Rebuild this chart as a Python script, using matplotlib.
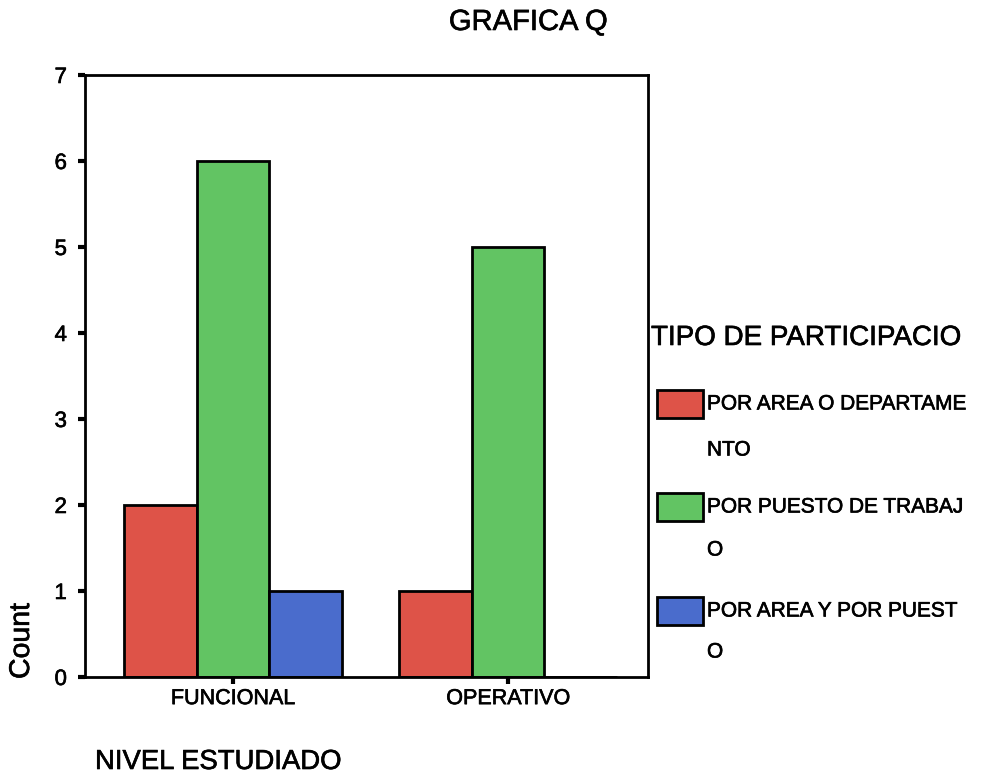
import matplotlib
matplotlib.use("Agg")
import matplotlib.pyplot as plt
import matplotlib.patheffects as pe
from matplotlib.patches import Rectangle
import numpy as np

plt.rcParams['font.family'] = ['Liberation Sans', 'DejaVu Sans']

categories = ["FUNCIONAL", "OPERATIVO"]
series_names = ["POR AREA O DEPARTAME\nNTO",
                "POR PUESTO DE TRABAJ\nO",
                "POR AREA Y POR PUEST\nO"]
values = {
    "area": [2, 1],
    "puesto": [6, 5],
    "ambos": [1, 0],
}
yticks = [0, 1, 2, 3, 4, 5, 6, 7]
colors = ["#de5348", "#62c463", "#4a6ccc"]

W, H = 985, 776
fig = plt.figure(figsize=(W / 100, H / 100), dpi=100)
fig.patch.set_facecolor("white")

# slightly heavier strokes for all lettering
heavy = [pe.withStroke(linewidth=0.45, foreground="black")]


def fx(px):
    return px / W


def fy(py):
    return 1 - py / H


ax = fig.add_axes([fx(85), fy(677), fx(648) - fx(85), fy(75) - fy(677)])
x = np.arange(len(categories))
width = 0.265
series = [values["area"], values["puesto"], values["ambos"]]
for i, (vals, c) in enumerate(zip(series, colors)):
    ax.bar(x + (i - 1) * width, vals, width, color=c,
           edgecolor="black", linewidth=2)

ax.set_xlim(-0.538, 1.509)
ax.set_ylim(0, 7)
ax.set_yticks(yticks)
ax.set_xticks(x)
ax.set_xticklabels(categories, fontsize=15.5)
ax.tick_params(axis="y", labelsize=16, length=5, width=3, pad=8)
ax.tick_params(axis="x", length=5, width=3, pad=3)
for s in ax.spines.values():
    s.set_linewidth(2)
for lbl in ax.get_xticklabels() + ax.get_yticklabels():
    lbl.set_path_effects(heavy)

texts = []
texts.append(fig.text(fx(22), fy(679), "Count", rotation=90, fontsize=20.5,
                      ha="center", va="bottom"))
texts.append(fig.text(fx(95), fy(762), "NIVEL ESTUDIADO", fontsize=19.8,
                      ha="left", va="center"))
texts.append(fig.text(fx(528), fy(22), "GRAFICA Q", fontsize=21,
                      ha="center", va="center"))

# legend drawn in figure pixels
texts.append(fig.text(fx(651), fy(338), "TIPO DE PARTICIPACIO", fontsize=20,
                      ha="left", va="center"))
rows = [(390, 404, 450), (493, 507, 550), (597, 611, 652)]
for (ptop, l1, l2), c, name in zip(rows, colors, series_names):
    fig.patches.append(Rectangle((fx(657), fy(ptop + 28)), fx(46), 28 / H,
                                 transform=fig.transFigure, facecolor=c,
                                 edgecolor="black", linewidth=2))
    first, second = name.split("\n")
    texts.append(fig.text(fx(707), fy(l1), first, fontsize=15,
                          ha="left", va="center"))
    texts.append(fig.text(fx(707), fy(l2), second, fontsize=15,
                          ha="left", va="center"))
for t in texts:
    t.set_path_effects(heavy)

fig.savefig("out.png", dpi=100)
